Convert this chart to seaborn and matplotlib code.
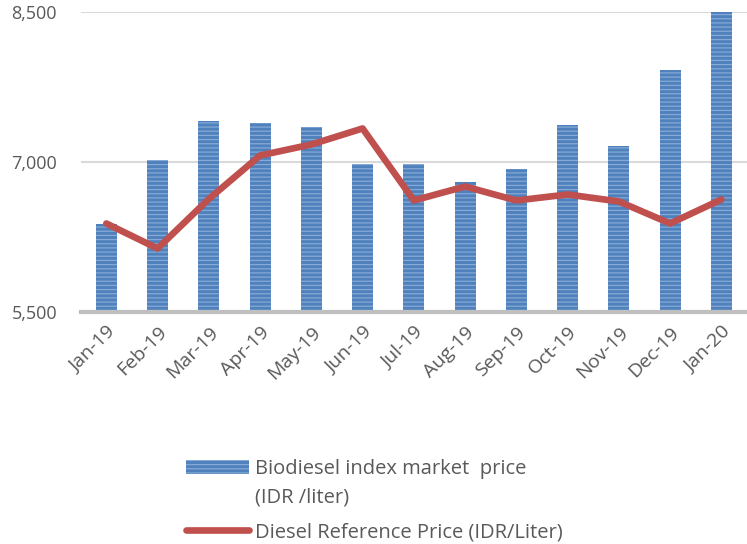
import matplotlib
matplotlib.use("Agg")
import matplotlib.pyplot as plt
import seaborn as sns
import pandas as pd
from matplotlib.ticker import FuncFormatter

# Data
months = ["Jan-19", "Feb-19", "Mar-19", "Apr-19", "May-19", "Jun-19", "Jul-19",
          "Aug-19", "Sep-19", "Oct-19", "Nov-19", "Dec-19", "Jan-20"]
biodiesel = [6380, 7015, 7405, 7385, 7345, 6975, 6975, 6800, 6930, 7365, 7155, 7915, 8500]
diesel = [6385, 6135, 6630, 7065, 7175, 7335, 6615, 6755, 6615, 6675, 6605, 6385, 6625]

bar_label = "Biodiesel index market  price\n(IDR /liter)"
line_label = "Diesel Reference Price (IDR/Liter)"

df = pd.DataFrame({"month": months, "biodiesel": biodiesel, "diesel": diesel})

sns.set_theme(style="white")
plt.rcParams['font.family'] = ['Open Sans', 'DejaVu Sans']
plt.rcParams['hatch.linewidth'] = 0.9

fig = plt.figure(figsize=(7.47, 5.44), dpi=100)
ax = fig.add_axes([0.108, 0.4265, 0.892, 0.5515])

sns.barplot(data=df, x="month", y="biodiesel", color="#4F81BD", saturation=1,
            width=0.41, ax=ax, label=bar_label, hatch="----",
            edgecolor="#86A9D6", linewidth=0)
sns.lineplot(data=df, x="month", y="diesel", color="#C0504D", linewidth=4.8,
             ax=ax, label=line_label, solid_capstyle="round")

ax.set_ylim(5500, 8500)
ax.set_xlim(-0.5, 12.5)
ax.set_yticks([5500, 7000, 8500])
ax.yaxis.set_major_formatter(FuncFormatter(lambda v, p: f"{v:,.0f}"))
ax.yaxis.grid(True, color="#D9D9D9", linewidth=1.5)
ax.set_axisbelow(True)
ax.set_xlabel("")
ax.set_ylabel("")

for s in ["top", "right", "left"]:
    ax.spines[s].set_visible(False)
ax.spines["bottom"].set_color("#BFBFBF")
ax.spines["bottom"].set_linewidth(3)
ax.spines["bottom"].set_zorder(5)

ax.tick_params(axis="y", length=0, labelsize=13, labelcolor="#595959", pad=17)
ax.tick_params(axis="x", length=0, labelsize=14, labelcolor="#595959", pad=8)
plt.setp(ax.get_xticklabels(), rotation=45, ha="right", rotation_mode="anchor")

handles, labels = ax.get_legend_handles_labels()
if ax.legend_:
    ax.legend_.remove()
# bars first, then the line, as in the original legend
leg = fig.legend(handles[::-1], labels[::-1], loc="upper left", bbox_to_anchor=(0.225, 0.19),
                 frameon=False, fontsize=14.5, handlelength=3.1, handletextpad=0.3,
                 labelspacing=0.75, labelcolor="#595959")
for t in leg.get_texts():
    t.set_linespacing(1.55)
# put the bar swatch next to the first line of its two-line label
bar_patch = leg.legend_handles[0]
bar_patch.set_y(bar_patch.get_y() + 12)

fig.savefig("out.png", dpi=100)
